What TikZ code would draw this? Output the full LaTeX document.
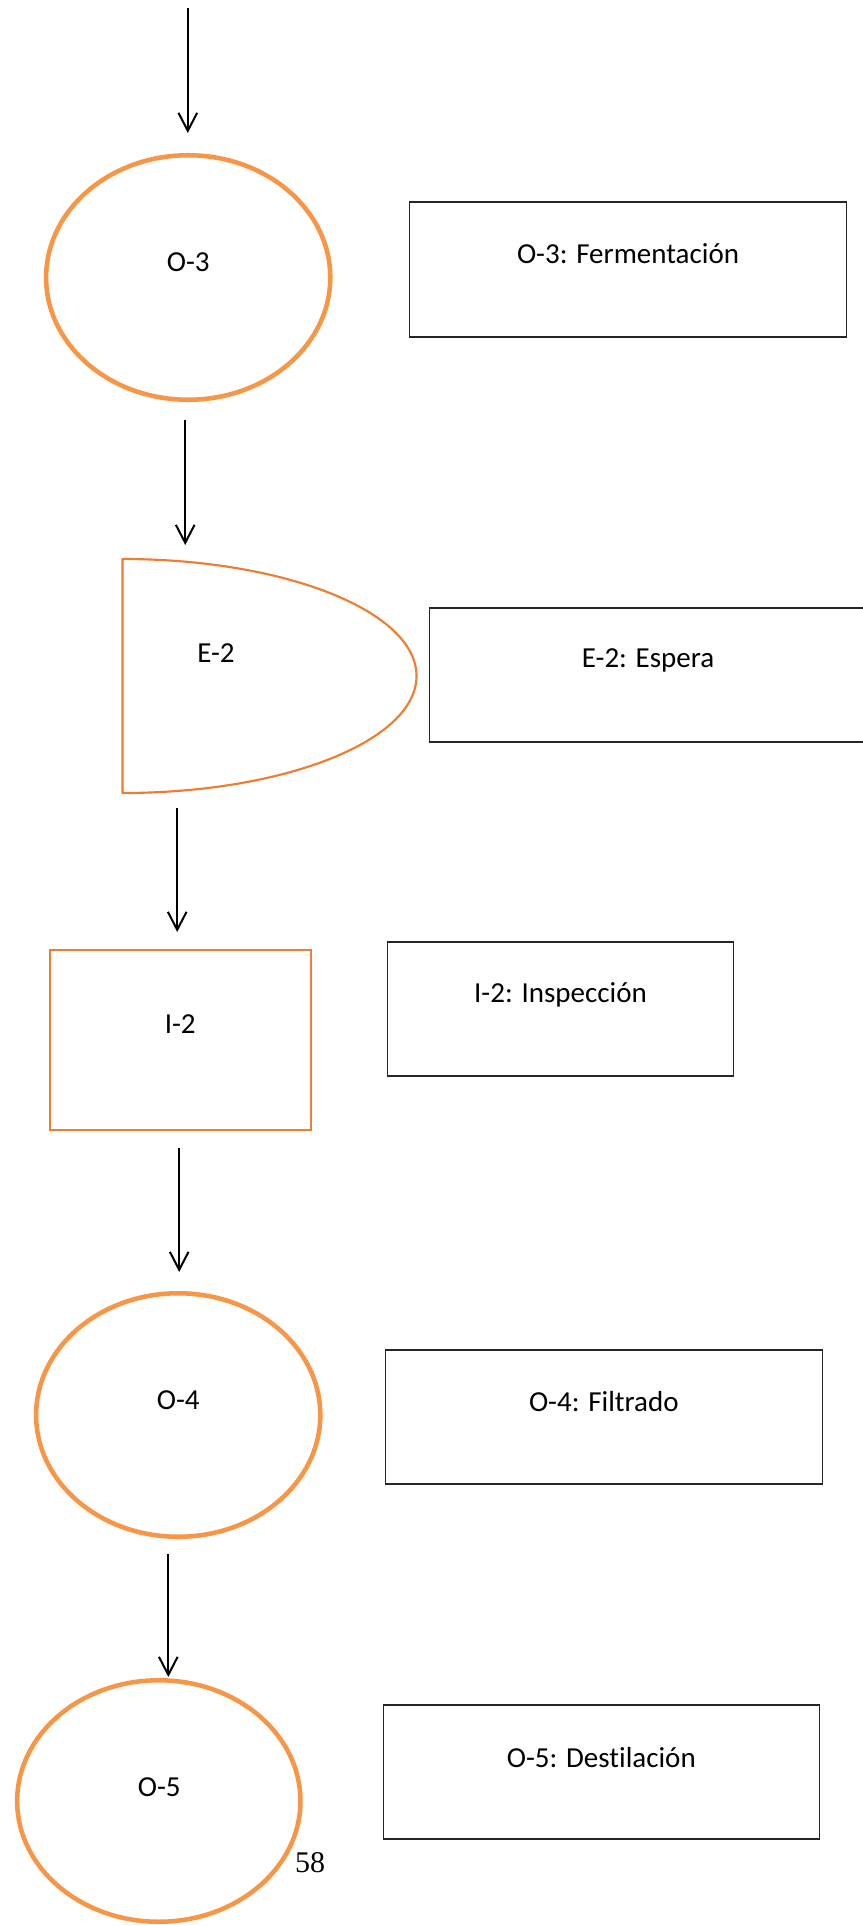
\documentclass[tikz,border=0pt]{standalone}
\usepackage{fontspec}
\setmainfont{Carlito}[Ligatures=NoCommon]
\newfontfamily\pagenumfont{Liberation Serif}
\usetikzlibrary{arrows.meta,shapes.geometric}
\definecolor{opline}{HTML}{F79646}
\definecolor{inspline}{HTML}{ED7D31}
\tikzset{
  opnode/.style={ellipse, draw=opline, line width=3.4pt, inner sep=0pt},
  descbox/.style={rectangle, draw=black!85, line width=0.9pt, inner sep=0pt},
  inspbox/.style={rectangle, draw=inspline, line width=1.6pt, inner sep=0pt},
  waitline/.style={draw=inspline, line width=1.6pt, line join=round},
  lbl/.style={anchor=base, inner sep=0pt, font=\fontsize{21.75}{26}\selectfont},
  flow/.style={draw=black, line width=1.5pt,
    -{Straight Barb[length=13.5pt,width=14pt,line width=1.5pt]}},
}
\begin{document}
\begin{tikzpicture}[x=0.75pt,y=-0.75pt]
  % page area
  \fill[white] (0,0) rectangle (863,1926);
  \useasboundingbox (0,0) rectangle (863,1926);

  % ---- O-3 ----
  \node[opnode, minimum width=284.2*0.75pt, minimum height=244.5*0.75pt] (o3) at (188.2,277.5) {};
  \node[lbl] (o3t) at (188.2,272) {O-3};
  \node[descbox, minimum width=436.6*0.75pt, minimum height=135*0.75pt] (b1) at (628,269.5) {};
  \node[lbl] (b1t) at (628,263) {O-3: Fermentación};

  % ---- E-2 (wait symbol) ----
  \draw[waitline] (122.5,793) -- (122.5,559)
    arc[start angle=90, end angle=-90, x radius=220.5pt, y radius=87.75pt] -- cycle;
  \coordinate (e2) at (122.5,676);
  \node[lbl] (e2t) at (216,662) {E-2};
  \node[descbox, minimum width=438*0.75pt, minimum height=134*0.75pt] (b2) at (648.1,675) {};
  \node[lbl] (b2t) at (648.1,667) {E-2: Espera};

  % ---- I-2 ----
  \node[inspbox, minimum width=261*0.75pt, minimum height=180*0.75pt] (i2) at (180.2,1040) {};
  \node[lbl] (i2t) at (180.2,1033) {I-2};
  \node[descbox, minimum width=346.5*0.75pt, minimum height=134*0.75pt] (b3) at (560.5,1009) {};
  \node[lbl] (b3t) at (560.5,1002) {I-2: Inspección};

  % ---- O-4 ----
  \node[opnode, minimum width=284.2*0.75pt, minimum height=243.5*0.75pt] (o4) at (178.2,1415) {};
  \node[lbl] (o4t) at (178.2,1409) {O-4};
  \node[descbox, minimum width=437*0.75pt, minimum height=134*0.75pt] (b4) at (603.8,1417) {};
  \node[lbl] (b4t) at (603.8,1411) {O-4: Filtrado};

  % ---- O-5 ----
  \node[opnode, minimum width=283.3*0.75pt, minimum height=241.5*0.75pt] (o5) at (158.8,1801) {};
  \node[lbl] (o5t) at (159.3,1796) {O-5};
  \node[descbox, minimum width=436*0.75pt, minimum height=134*0.75pt] (b5) at (601.3,1772) {};
  \node[lbl] (b5t) at (601.3,1767) {O-5: Destilación};

  % page number
  \node[anchor=base, inner sep=0pt, font=\pagenumfont\fontsize{22.5}{27}\selectfont] (pg) at (310.1,1872) {58};

  % ---- flow arrows ----
  \coordinate (a0s) at (187.8,8);    \coordinate (a0e) at (187.8,133);
  \coordinate (a1s) at (185.2,420);  \coordinate (a1e) at (185.2,545);
  \coordinate (a2s) at (177.2,808);  \coordinate (a2e) at (177.2,932);
  \coordinate (a3s) at (179.2,1148); \coordinate (a3e) at (179.2,1272);
  \coordinate (a4s) at (168.3,1554); \coordinate (a4e) at (168.3,1677);
  \draw[flow] (a0s) -- (a0e);
  \draw[flow] (a1s) -- (a1e);
  \draw[flow] (a2s) -- (a2e);
  \draw[flow] (a3s) -- (a3e);
  \draw[flow] (a4s) -- (a4e);
\end{tikzpicture}
\end{document}
